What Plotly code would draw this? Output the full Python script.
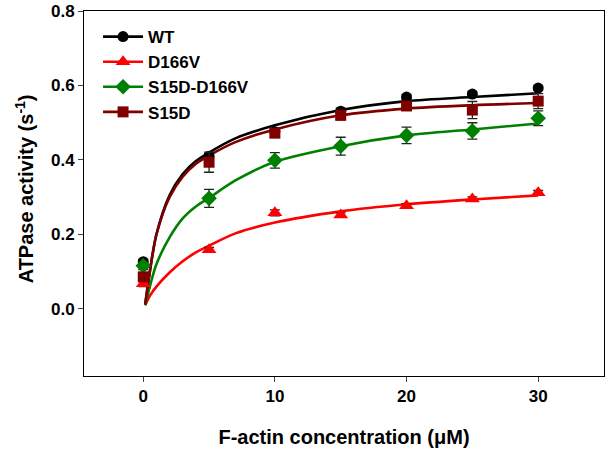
import plotly.graph_objects as go

# ---- data ----
conc = [0, 5, 10, 15, 20, 25, 30]

wt_y = [0.127, 0.410, 0.476, 0.531, 0.569, 0.577, 0.593]
wt_err = [0.006, 0.008, 0.006, 0.008, 0.006, 0.006, 0.006]

d166v_y = [0.068, 0.159, 0.258, 0.252, 0.277, 0.295, 0.312]
d166v_err = [0.008, 0.006, 0.008, 0.006, 0.006, 0.006, 0.006]

s15d_d166v_y = [0.116, 0.297, 0.399, 0.437, 0.466, 0.478, 0.512]
s15d_d166v_err = [0.010, 0.024, 0.021, 0.024, 0.022, 0.022, 0.020]

s15d_y = [0.086, 0.394, 0.472, 0.520, 0.545, 0.534, 0.558]
s15d_err = [0.012, 0.027, 0.010, 0.012, 0.010, 0.023, 0.020]

# fitted curves, values
fit_x = [0.15, 0.5, 1, 2, 3, 4, 5, 7, 10, 15, 20, 25, 30]
wt_fit = [0.012, 0.10, 0.20, 0.305, 0.362, 0.397, 0.420, 0.458, 0.493, 0.534, 0.558, 0.569, 0.579]
d166v_fit = [0.010, 0.035, 0.060, 0.098, 0.128, 0.152, 0.170, 0.203, 0.232, 0.262, 0.281, 0.294, 0.305]
s15d_d166v_fit = [0.010, 0.060, 0.120, 0.192, 0.243, 0.275, 0.298, 0.345, 0.395, 0.437, 0.466, 0.482, 0.498]
s15d_fit = [0.012, 0.10, 0.20, 0.300, 0.355, 0.390, 0.412, 0.448, 0.482, 0.520, 0.538, 0.547, 0.553]

x_ticks = [0, 10, 20, 30]
y_ticks = [0.0, 0.2, 0.4, 0.6, 0.8]

names = ["WT", "D166V", "S15D-D166V", "S15D"]
colors = ["#000000", "#FF0000", "#008000", "#800000"]
symbols = ["circle", "triangle-up", "diamond", "square"]
msizes = [11, 13, 12, 11]
ys = [wt_y, d166v_y, s15d_d166v_y, s15d_y]
errs = [wt_err, d166v_err, s15d_d166v_err, s15d_err]
fits = [wt_fit, d166v_fit, s15d_d166v_fit, s15d_fit]

FONT = "Liberation Sans, Arial, sans-serif"

fig = go.Figure()

# curves
for name, c, f in zip(names, colors, fits):
    fig.add_trace(go.Scatter(x=fit_x, y=f, mode="lines", line=dict(color=c, width=2.6, shape="spline", smoothing=0.8),
                             showlegend=False, hoverinfo="skip"))

# points with error bars
for name, c, s, ms, y, e in zip(names, colors, symbols, msizes, ys, errs):
    fig.add_trace(go.Scatter(x=conc, y=y, mode="markers",
                             marker=dict(symbol=s, size=ms, color=c, line=dict(width=0)),
                             error_y=dict(type="data", array=e, visible=True, color="#222222", thickness=1.3, width=5),
                             showlegend=False))

# legend entries
for name, c, s, ms in zip(names, colors, symbols, msizes):
    fig.add_trace(go.Scatter(x=[None], y=[None], mode="lines+markers", name=name,
                             line=dict(color=c, width=2.6),
                             marker=dict(symbol=s, size=ms, color=c)))

fig.update_layout(
    width=611, height=453,
    margin=dict(l=84, r=7, t=11, b=77),
    paper_bgcolor="white", plot_bgcolor="white",
    font=dict(family=FONT, color="black"),
    showlegend=True,
    legend=dict(x=0.027, y=0.978, xanchor="left", yanchor="top",
                font=dict(family=FONT, size=17, weight="bold"),
                bgcolor="rgba(0,0,0,0)", tracegroupgap=0, itemwidth=40),
    xaxis=dict(range=[-4.5, 35], tickvals=x_ticks, ticks="outside", ticklen=5, tickwidth=1,
               showline=True, linecolor="black", linewidth=1, mirror=True, showgrid=False, zeroline=False,
               automargin=False,
               tickfont=dict(family=FONT, size=17, weight="bold"),
               title=dict(text="F-actin concentration (μM)", font=dict(family=FONT, size=20, weight="bold"), standoff=24)),
    yaxis=dict(range=[-0.18, 0.8], tickvals=y_ticks, tickformat=".1f", ticks="outside", ticklen=5, tickwidth=1,
               showline=True, linecolor="black", linewidth=1, mirror=True, showgrid=False, zeroline=False,
               automargin=False,
               tickfont=dict(family=FONT, size=17, weight="bold")),
    annotations=[dict(text="ATPase activity (s<sup>-1</sup>)", xref="paper", yref="paper",
                      x=-0.115, y=0.512, xanchor="center", yanchor="middle", textangle=-90, showarrow=False,
                      font=dict(family=FONT, size=20, weight="bold"))],
)

fig.write_html("out.html", post_script="document.body.style.margin='0';",
               config={"displayModeBar": False})
